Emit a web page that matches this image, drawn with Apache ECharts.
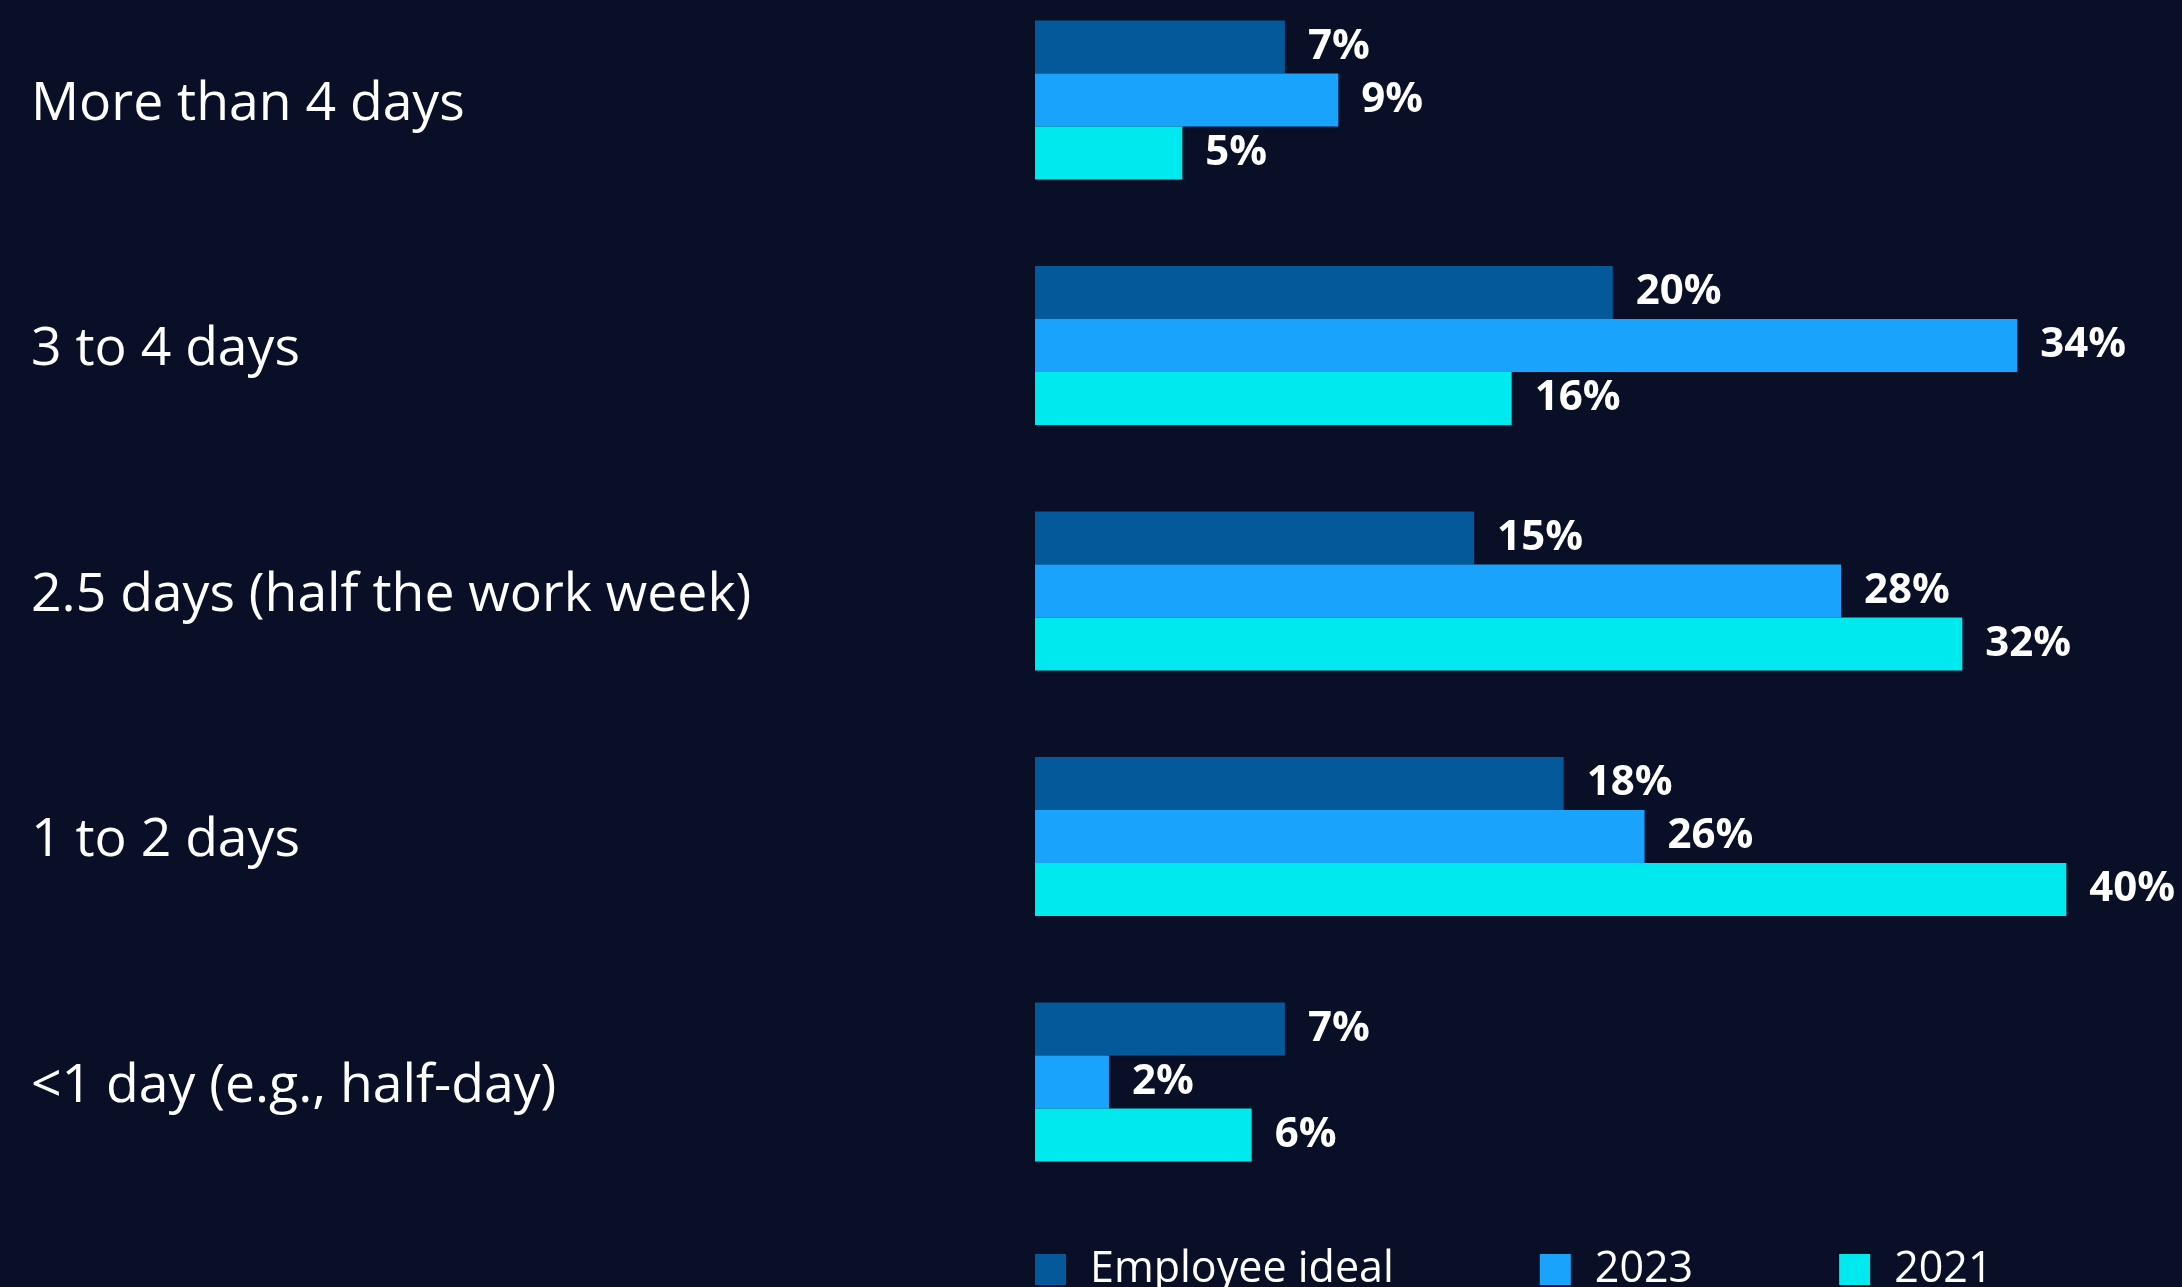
<!DOCTYPE html>
<html>
<head>
<meta charset="utf-8">
<title>Days in office</title>
<script src="https://cdn.jsdelivr.net/npm/echarts@6/dist/echarts.min.js"></script>
<style>
  html, body { margin: 0; padding: 0; background: #080f27; }
  #chart { width: 2182px; height: 1287px; }
</style>
</head>
<body>
<div id="chart"></div>
<script>
// categories, top to bottom
const categories = [
  "More than 4 days",
  "3 to 4 days",
  "2.5 days (half the work week)",
  "1 to 2 days",
  "<1 day (e.g., half-day)"
];
const seriesNames = ["Employee ideal", "2023", "2021"];

// bar lengths as drawn (percent scale)
const idealValues = [8.65, 20.0, 15.2, 18.3, 8.65];
const values2023 = [10.5, 34.0, 27.9, 21.1, 2.56];
const values2021 = [5.1, 16.5, 32.1, 35.7, 7.5];

// printed labels
const idealLabels = ["7%", "20%", "15%", "18%", "7%"];
const labels2023 = ["9%", "34%", "28%", "26%", "2%"];
const labels2021 = ["5%", "16%", "32%", "40%", "6%"];

const colors = ["#03599a", "#1aa3fc", "#00e9ee"];
const fontFamily = "'Open Sans', 'Noto Sans', sans-serif";

const chart = echarts.init(document.getElementById("chart"));

const makeSeries = (name, data, labels, color) => ({
  name: name,
  type: "bar",
  data: data,
  barWidth: 53,
  barGap: "0%",
  itemStyle: { color: color },
  label: {
    show: true,
    position: "right",
    distance: 23,
    color: "#ffffff",
    fontFamily: fontFamily,
    fontWeight: "bold",
    fontSize: 42,
    formatter: (p) => labels[p.dataIndex]
  },
  animation: false
});

const option = {
  backgroundColor: "#080f27",
  color: colors,
  grid: {
    left: 1035,
    width: 1040,
    top: 100,
    height: 982
  },
  legend: {
    left: 1030,
    top: 1243,
    itemWidth: 31,
    itemHeight: 31,
    itemGap: 146,
    icon: "rect",
    textStyle: {
      color: "#ffffff",
      fontFamily: fontFamily,
      fontSize: 43,
      padding: [0, 0, 0, 19]
    },
    data: seriesNames
  },
  xAxis: {
    type: "value",
    min: 0,
    max: 36,
    show: false,
    splitLine: { show: false }
  },
  yAxis: {
    type: "category",
    data: categories,
    inverse: true,
    boundaryGap: false,
    axisLine: { show: false },
    axisTick: { show: false },
    splitLine: { show: false },
    axisLabel: {
      align: "left",
      margin: 1004,
      formatter: (v) => "{t|" + v + "}",
      rich: {
        t: {
          color: "#ffffff",
          fontFamily: fontFamily,
          fontSize: 53.5,
          padding: [9, 0, 0, 0]
        }
      }
    }
  },
  series: [
    makeSeries(seriesNames[0], idealValues, idealLabels, colors[0]),
    makeSeries(seriesNames[1], values2023, labels2023, colors[1]),
    makeSeries(seriesNames[2], values2021, labels2021, colors[2])
  ]
};

chart.setOption(option);
</script>
</body>
</html>
